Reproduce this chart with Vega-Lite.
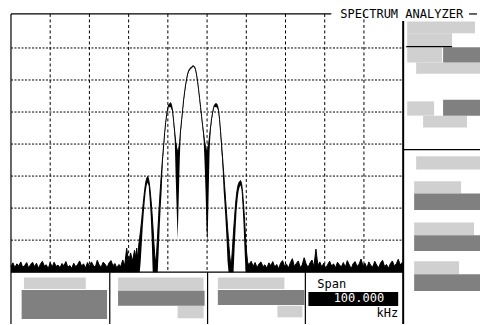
{
  "$schema": "https://vega.github.io/schema/vega-lite/v6.json",
  "width": 481,
  "height": 325,
  "autosize": {"type": "fit", "contains": "padding"},
  "padding": 0,
  "background": "white",
  "config": {"view": {"stroke": null}},
  "datasets": {
    "hatched": [
      {"x": 51.02, "x2": 68.32, "y": -1.77, "y2": -5.39},
      {"x": 51.02, "x2": 62.47, "y": -5.39, "y2": -9.56},
      {"x": 51.02, "x2": 59.92, "y": -9.74, "y2": -14.54},
      {"x": 53.31, "x2": 69.59, "y": -14.54, "y2": -18.05},
      {"x": 51.02, "x2": 57.89, "y": -26.68, "y2": -31.13},
      {"x": 55.09, "x2": 66.28, "y": -31.13, "y2": -34.86},
      {"x": 53.31, "x2": 69.59, "y": -43.79, "y2": -47.94},
      {"x": 52.8, "x2": 64.76, "y": -51.58, "y2": -55.41},
      {"x": 52.8, "x2": 68.07, "y": -64.53, "y2": -68.48},
      {"x": 52.8, "x2": 64.25, "y": -76.58, "y2": -80.62},
      {"x": -46.69, "x2": -30.92, "y": -81.65, "y2": -85.29},
      {"x": -22.7, "x2": -0.89, "y": -81.65, "y2": -85.82},
      {"x": -7.51, "x2": -0.89, "y": -90.49, "y2": -94.41},
      {"x": 2.75, "x2": 19.72, "y": -81.65, "y2": -85.29},
      {"x": 17.94, "x2": 24.3, "y": -90.49, "y2": -94.1}
    ],
    "solid": [
      {"x": 60.18, "x2": 69.59, "y": -9.74, "y2": -14.54},
      {"x": 60.18, "x2": 69.59, "y": -26.15, "y2": -31.13},
      {"x": 52.8, "x2": 69.59, "y": -55.41, "y2": -60.6},
      {"x": 52.8, "x2": 69.59, "y": -68.48, "y2": -73.37},
      {"x": 52.8, "x2": 69.59, "y": -80.62, "y2": -85.91},
      {"x": -47.28, "x2": -25.5, "y": -85.6, "y2": -94.63},
      {"x": -22.7, "x2": -0.64, "y": -85.82, "y2": -90.49},
      {"x": 2.75, "x2": 24.81, "y": -85.6, "y2": -90.27}
    ],
    "blackbox": [
      {"x": 25.83, "x2": 48.73, "y": -86.23, "y2": -90.58}
    ],
    "frame": [
      {"x": -50, "x2": 31.68, "y": 0.62, "y2": 0.62},
      {"x": 66.79, "x2": 68.83, "y": 0.62, "y2": 0.62},
      {"x": -50, "x2": 50, "y": -80, "y2": -80},
      {"x": -24.81, "x2": -24.81, "y": -80, "y2": -96.19},
      {"x": 0.13, "x2": 0.13, "y": -80, "y2": -96.19},
      {"x": 25.06, "x2": 25.06, "y": -80, "y2": -96.19},
      {"x": 50, "x2": 69.59, "y": -41.71, "y2": -41.71},
      {"x": 50.76, "x2": 62.47, "y": -9.56, "y2": -9.56},
      {"x": -50, "x2": -50, "y": 0.62, "y2": -96.19}
    ],
    "frameThick": [
      {"x": 50, "x2": 50, "y": -1.56, "y2": -96.19}
    ],
    "gridV": [
      {"x": -40, "x2": -40, "y": 0.62, "y2": -80},
      {"x": -30, "x2": -30, "y": 0.62, "y2": -80},
      {"x": -20, "x2": -20, "y": 0.62, "y2": -80},
      {"x": -10, "x2": -10, "y": 0.62, "y2": -80},
      {"x": 0, "x2": 0, "y": 0.62, "y2": -80},
      {"x": 10, "x2": 10, "y": 0.62, "y2": -80},
      {"x": 20, "x2": 20, "y": 0.62, "y2": -80},
      {"x": 30, "x2": 30, "y": 0.62, "y2": -80},
      {"x": 40, "x2": 40, "y": 0.62, "y2": -80}
    ],
    "gridH": [
      {"x": -50, "x2": 50, "y": -10, "y2": -10},
      {"x": -50, "x2": 50, "y": -20, "y2": -20},
      {"x": -50, "x2": 50, "y": -30, "y2": -30},
      {"x": -50, "x2": 50, "y": -40, "y2": -40},
      {"x": -50, "x2": 50, "y": -50, "y2": -50},
      {"x": -50, "x2": 50, "y": -60, "y2": -60},
      {"x": -50, "x2": 50, "y": -70, "y2": -70}
    ],
    "labels": [
      {"x": 33.97, "y": -0.72, "text": "SPECTRUM ANALYZER", "role": "title"},
      {"x": 28.12, "y": -85.1, "text": "Span", "role": "left"},
      {"x": 45.17, "y": -89.4, "text": "100.000", "role": "value"},
      {"x": 48.73, "y": -94.1, "text": "kHz", "role": "unit"}
    ],
    "trace": [
      {"x": -50, "y": -78.2, "y2": -80}, {"x": -49.5, "y": -77.1, "y2": -80}, {"x": -49, "y": -78.6, "y2": -80}, {"x": -48.5, "y": -77.4, "y2": -80},
      {"x": -48, "y": -78.0, "y2": -80}, {"x": -47.5, "y": -76.8, "y2": -80}, {"x": -47, "y": -78.5, "y2": -80}, {"x": -46.5, "y": -77.9, "y2": -80},
      {"x": -46, "y": -77.0, "y2": -80}, {"x": -45.5, "y": -78.7, "y2": -80}, {"x": -45, "y": -77.6, "y2": -80}, {"x": -44.5, "y": -76.9, "y2": -80},
      {"x": -44, "y": -78.3, "y2": -80}, {"x": -43.5, "y": -77.2, "y2": -80}, {"x": -43, "y": -78.8, "y2": -80}, {"x": -42.5, "y": -77.5, "y2": -80},
      {"x": -42, "y": -76.6, "y2": -80}, {"x": -41.5, "y": -78.1, "y2": -80}, {"x": -41, "y": -77.7, "y2": -80}, {"x": -40.5, "y": -78.9, "y2": -80},
      {"x": -40, "y": -77.0, "y2": -80}, {"x": -39.5, "y": -78.4, "y2": -80}, {"x": -39, "y": -76.9, "y2": -80}, {"x": -38.5, "y": -78.2, "y2": -80},
      {"x": -38, "y": -77.8, "y2": -80}, {"x": -37.5, "y": -78.6, "y2": -80}, {"x": -37, "y": -77.3, "y2": -80}, {"x": -36.5, "y": -78.0, "y2": -80},
      {"x": -36, "y": -76.7, "y2": -80}, {"x": -35.5, "y": -78.5, "y2": -80}, {"x": -35, "y": -77.9, "y2": -80}, {"x": -34.5, "y": -78.8, "y2": -80},
      {"x": -34, "y": -77.2, "y2": -80}, {"x": -33.5, "y": -78.3, "y2": -80}, {"x": -33, "y": -77.6, "y2": -80}, {"x": -32.5, "y": -76.5, "y2": -80},
      {"x": -32, "y": -78.1, "y2": -80}, {"x": -31.5, "y": -77.4, "y2": -80}, {"x": -31, "y": -78.7, "y2": -80}, {"x": -30.5, "y": -77.0, "y2": -80},
      {"x": -30, "y": -78.2, "y2": -80}, {"x": -29.5, "y": -76.8, "y2": -80}, {"x": -29, "y": -77.9, "y2": -80}, {"x": -28.5, "y": -78.5, "y2": -80},
      {"x": -28, "y": -76.3, "y2": -80}, {"x": -27.5, "y": -77.8, "y2": -80}, {"x": -27, "y": -78.4, "y2": -80}, {"x": -26.5, "y": -76.9, "y2": -80},
      {"x": -26, "y": -77.5, "y2": -80}, {"x": -25.5, "y": -78.6, "y2": -80}, {"x": -25, "y": -77.1, "y2": -80}, {"x": -24.5, "y": -76.4, "y2": -80},
      {"x": -24, "y": -78.0, "y2": -80}, {"x": -23.5, "y": -77.3, "y2": -80}, {"x": -23, "y": -78.7, "y2": -80}, {"x": -22.5, "y": -77.6, "y2": -80},
      {"x": -22, "y": -78.2, "y2": -80}, {"x": -21.5, "y": -76.2, "y2": -80}, {"x": -21, "y": -77.9, "y2": -80}, {"x": -20.5, "y": -72.5, "y2": -80},
      {"x": -20, "y": -76.8, "y2": -80}, {"x": -19.5, "y": -74.0, "y2": -80}, {"x": -19, "y": -76.5, "y2": -80}, {"x": -18.5, "y": -73.2, "y2": -80},
      {"x": -18.19, "y": -75.3, "y2": -80}, {"x": -17.94, "y": -72.5, "y2": -80}, {"x": -17.68, "y": -76.0, "y2": -80}, {"x": -17.43, "y": -71.6, "y2": -80},
      {"x": -17.17, "y": -69.1, "y2": -80}, {"x": -16.92, "y": -66.6, "y2": -76.6}, {"x": -16.66, "y": -63.5, "y2": -71.3}, {"x": -16.41, "y": -60.1, "y2": -66.0},
      {"x": -16.15, "y": -57.0, "y2": -61.6}, {"x": -15.9, "y": -54.2, "y2": -57.9}, {"x": -15.65, "y": -52.0, "y2": -54.8}, {"x": -15.39, "y": -50.7, "y2": -52.9},
      {"x": -15.14, "y": -50.1, "y2": -52.0}, {"x": -14.88, "y": -51.1, "y2": -53.2}, {"x": -14.63, "y": -53.2, "y2": -57.3}, {"x": -14.37, "y": -56.3, "y2": -62.3},
      {"x": -14.12, "y": -60.1, "y2": -69.7}, {"x": -13.86, "y": -64.7, "y2": -80}, {"x": -13.61, "y": -69.7, "y2": -80}, {"x": -13.35, "y": -74.7, "y2": -80},
      {"x": -13.1, "y": -77.2, "y2": -80}, {"x": -12.85, "y": -73.5, "y2": -80}, {"x": -12.59, "y": -67.9, "y2": -80}, {"x": -12.34, "y": -62.3, "y2": -73.5},
      {"x": -12.08, "y": -57.0, "y2": -66.0}, {"x": -11.83, "y": -52.3, "y2": -59.8}, {"x": -11.57, "y": -47.9, "y2": -54.2}, {"x": -11.32, "y": -43.9, "y2": -46.0},
      {"x": -11.06, "y": -40.2, "y2": -41.5}, {"x": -10.81, "y": -36.4, "y2": -37.2}, {"x": -10.56, "y": -33.3, "y2": -33.9}, {"x": -10.3, "y": -30.8, "y2": -31.3},
      {"x": -10.05, "y": -28.9, "y2": -29.4}, {"x": -9.79, "y": -27.7, "y2": -28.2}, {"x": -9.54, "y": -27.4, "y2": -28.6}, {"x": -9.28, "y": -27.1, "y2": -28.4},
      {"x": -9.03, "y": -28.0, "y2": -29.2}, {"x": -8.77, "y": -29.9, "y2": -30.5}, {"x": -8.52, "y": -33.0, "y2": -34.0}, {"x": -8.26, "y": -36.1, "y2": -38.0},
      {"x": -8.01, "y": -39.2, "y2": -50.0}, {"x": -7.76, "y": -41.1, "y2": -60.0}, {"x": -7.5, "y": -42.3, "y2": -69.7}, {"x": -7.25, "y": -41.7, "y2": -58.0},
      {"x": -6.99, "y": -39.2, "y2": -46.0}, {"x": -6.74, "y": -35.5, "y2": -37.0}, {"x": -6.48, "y": -32.4, "y2": -33.2}, {"x": -6.23, "y": -29.3, "y2": -30.0},
      {"x": -5.97, "y": -26.1, "y2": -26.8}, {"x": -5.72, "y": -23.7, "y2": -24.3}, {"x": -5.47, "y": -21.5, "y2": -22.0}, {"x": -5.21, "y": -19.6, "y2": -20.1},
      {"x": -4.96, "y": -18.1, "y2": -18.6}, {"x": -4.7, "y": -17.1, "y2": -17.6}, {"x": -4.45, "y": -16.5, "y2": -17.0}, {"x": -4.19, "y": -16.2, "y2": -16.6},
      {"x": -3.94, "y": -15.9, "y2": -16.3}, {"x": -3.68, "y": -15.6, "y2": -16.0}, {"x": -3.43, "y": -15.6, "y2": -15.9}, {"x": -3.17, "y": -15.9, "y2": -16.3},
      {"x": -2.92, "y": -16.8, "y2": -17.2}, {"x": -2.67, "y": -18.4, "y2": -18.9}, {"x": -2.41, "y": -20.5, "y2": -21.0}, {"x": -2.16, "y": -23.0, "y2": -23.5},
      {"x": -1.9, "y": -25.8, "y2": -26.4}, {"x": -1.65, "y": -28.6, "y2": -29.2}, {"x": -1.39, "y": -31.4, "y2": -32.0}, {"x": -1.14, "y": -34.2, "y2": -35.0},
      {"x": -0.88, "y": -36.7, "y2": -38.5}, {"x": -0.63, "y": -39.2, "y2": -46.0}, {"x": -0.38, "y": -41.1, "y2": -55.0}, {"x": -0.12, "y": -42.0, "y2": -67.2},
      {"x": 0.13, "y": -41.7, "y2": -70.4}, {"x": 0.39, "y": -40.2, "y2": -56.0}, {"x": 0.64, "y": -37.4, "y2": -42.0}, {"x": 0.9, "y": -34.6, "y2": -36.0},
      {"x": 1.15, "y": -32.1, "y2": -32.8}, {"x": 1.41, "y": -30.2, "y2": -30.8}, {"x": 1.66, "y": -28.6, "y2": -29.2}, {"x": 1.91, "y": -27.7, "y2": -28.3},
      {"x": 2.17, "y": -27.4, "y2": -28.5}, {"x": 2.42, "y": -27.4, "y2": -28.5}, {"x": 2.68, "y": -28.0, "y2": -28.9}, {"x": 2.93, "y": -29.6, "y2": -30.2},
      {"x": 3.19, "y": -32.4, "y2": -33.2}, {"x": 3.44, "y": -36.1, "y2": -37.3}, {"x": 3.7, "y": -40.2, "y2": -42.5}, {"x": 3.95, "y": -44.2, "y2": -47.0},
      {"x": 4.21, "y": -48.6, "y2": -54.2}, {"x": 4.46, "y": -52.9, "y2": -58.8}, {"x": 4.72, "y": -57.3, "y2": -64.1}, {"x": 4.97, "y": -61.6, "y2": -69.7},
      {"x": 5.22, "y": -66.0, "y2": -76.6}, {"x": 5.48, "y": -70.4, "y2": -80}, {"x": 5.73, "y": -74.4, "y2": -80}, {"x": 5.99, "y": -77.2, "y2": -80},
      {"x": 6.24, "y": -76.6, "y2": -80}, {"x": 6.5, "y": -72.2, "y2": -80}, {"x": 6.75, "y": -67.2, "y2": -80}, {"x": 7.01, "y": -62.9, "y2": -72.8},
      {"x": 7.26, "y": -58.8, "y2": -66.6}, {"x": 7.51, "y": -55.7, "y2": -61.0}, {"x": 7.77, "y": -53.5, "y2": -57.3}, {"x": 8.02, "y": -52.3, "y2": -54.8},
      {"x": 8.28, "y": -51.7, "y2": -53.5}, {"x": 8.53, "y": -51.4, "y2": -52.9}, {"x": 8.79, "y": -52.3, "y2": -54.2}, {"x": 9.04, "y": -54.8, "y2": -58.8},
      {"x": 9.3, "y": -58.8, "y2": -65.1}, {"x": 9.55, "y": -63.5, "y2": -72.8}, {"x": 9.81, "y": -69.1, "y2": -80}, {"x": 10.06, "y": -73.5, "y2": -80},
      {"x": 10.31, "y": -76.6, "y2": -80}, {"x": 10.57, "y": -77.8, "y2": -80},
      {"x": 10.75, "y": -77.5, "y2": -80}, {"x": 11.25, "y": -76.6, "y2": -80}, {"x": 11.75, "y": -78.2, "y2": -80}, {"x": 12.25, "y": -77.0, "y2": -80},
      {"x": 12.75, "y": -78.6, "y2": -80}, {"x": 13.25, "y": -77.4, "y2": -80}, {"x": 13.75, "y": -76.8, "y2": -80}, {"x": 14.25, "y": -78.3, "y2": -80},
      {"x": 14.75, "y": -77.7, "y2": -80}, {"x": 15.25, "y": -78.8, "y2": -80}, {"x": 15.75, "y": -77.1, "y2": -80}, {"x": 16.25, "y": -78.0, "y2": -80},
      {"x": 16.75, "y": -76.7, "y2": -80}, {"x": 17.25, "y": -78.4, "y2": -80}, {"x": 17.75, "y": -77.6, "y2": -80}, {"x": 18.25, "y": -78.9, "y2": -80},
      {"x": 18.75, "y": -77.2, "y2": -80}, {"x": 19.25, "y": -76.4, "y2": -80}, {"x": 19.75, "y": -78.1, "y2": -80}, {"x": 20.25, "y": -77.5, "y2": -80},
      {"x": 20.75, "y": -78.7, "y2": -80}, {"x": 21.25, "y": -77.0, "y2": -80}, {"x": 21.75, "y": -75.8, "y2": -80}, {"x": 22.25, "y": -78.2, "y2": -80},
      {"x": 22.75, "y": -77.3, "y2": -80}, {"x": 23.25, "y": -76.5, "y2": -80}, {"x": 23.75, "y": -78.5, "y2": -80}, {"x": 24.25, "y": -77.8, "y2": -80},
      {"x": 24.75, "y": -75.5, "y2": -80}, {"x": 25.25, "y": -77.4, "y2": -80}, {"x": 25.75, "y": -78.6, "y2": -80}, {"x": 26.25, "y": -77.1, "y2": -80},
      {"x": 26.75, "y": -76.2, "y2": -80}, {"x": 27.25, "y": -78.3, "y2": -80}, {"x": 27.75, "y": -72.8, "y2": -80}, {"x": 28.25, "y": -77.9, "y2": -80},
      {"x": 28.75, "y": -76.8, "y2": -80}, {"x": 29.25, "y": -78.4, "y2": -80}, {"x": 29.75, "y": -77.2, "y2": -80}, {"x": 30.25, "y": -78.8, "y2": -80},
      {"x": 30.75, "y": -77.6, "y2": -80}, {"x": 31.25, "y": -76.6, "y2": -80}, {"x": 31.75, "y": -78.1, "y2": -80}, {"x": 32.25, "y": -77.4, "y2": -80},
      {"x": 32.75, "y": -78.6, "y2": -80}, {"x": 33.25, "y": -76.9, "y2": -80}, {"x": 33.75, "y": -77.8, "y2": -80}, {"x": 34.25, "y": -78.3, "y2": -80},
      {"x": 34.75, "y": -77.0, "y2": -80}, {"x": 35.25, "y": -78.5, "y2": -80}, {"x": 35.75, "y": -76.4, "y2": -80}, {"x": 36.25, "y": -77.7, "y2": -80},
      {"x": 36.75, "y": -78.9, "y2": -80}, {"x": 37.25, "y": -77.3, "y2": -80}, {"x": 37.75, "y": -76.7, "y2": -80}, {"x": 38.25, "y": -78.2, "y2": -80},
      {"x": 38.75, "y": -77.5, "y2": -80}, {"x": 39.25, "y": -75.9, "y2": -80}, {"x": 39.75, "y": -78.0, "y2": -80}, {"x": 40.25, "y": -77.2, "y2": -80},
      {"x": 40.75, "y": -78.7, "y2": -80}, {"x": 41.25, "y": -76.8, "y2": -80}, {"x": 41.75, "y": -77.9, "y2": -80}, {"x": 42.25, "y": -78.4, "y2": -80},
      {"x": 42.75, "y": -76.6, "y2": -80}, {"x": 43.25, "y": -77.8, "y2": -80}, {"x": 43.75, "y": -78.6, "y2": -80}, {"x": 44.25, "y": -77.1, "y2": -80},
      {"x": 44.75, "y": -76.3, "y2": -80}, {"x": 45.25, "y": -78.2, "y2": -80}, {"x": 45.75, "y": -77.6, "y2": -80}, {"x": 46.25, "y": -78.8, "y2": -80},
      {"x": 46.75, "y": -77.3, "y2": -80}, {"x": 47.25, "y": -76.5, "y2": -80}, {"x": 47.75, "y": -78.1, "y2": -80}, {"x": 48.25, "y": -77.4, "y2": -80},
      {"x": 48.75, "y": -76.0, "y2": -80}, {"x": 49.25, "y": -77.8, "y2": -80}, {"x": 49.75, "y": -77.0, "y2": -80}, {"x": 50, "y": -77.6, "y2": -80}
    ]
  },
  "encoding": {
    "x": {"field": "x", "type": "quantitative", "scale": {"domain": [-52.8, 69.59], "nice": false, "zero": false}, "axis": null},
    "y": {"field": "y", "type": "quantitative", "scale": {"domain": [-96.19, 4.98], "nice": false, "zero": false}, "axis": null}
  },
  "layer": [
    {"data": {"name": "hatched"}, "mark": {"type": "rect", "fill": "#d0d0d0", "stroke": null}, "encoding": {"x2": {"field": "x2"}, "y2": {"field": "y2"}}},
    {"data": {"name": "solid"}, "mark": {"type": "rect", "fill": "#808080", "stroke": null}, "encoding": {"x2": {"field": "x2"}, "y2": {"field": "y2"}}},
    {"data": {"name": "blackbox"}, "mark": {"type": "rect", "fill": "#000000", "stroke": null}, "encoding": {"x2": {"field": "x2"}, "y2": {"field": "y2"}}},
    {"data": {"name": "gridH"}, "mark": {"type": "rule", "color": "#000000", "strokeWidth": 1, "strokeDash": [2, 1.5]}, "encoding": {"x2": {"field": "x2"}, "y2": {"field": "y2"}}},
    {"data": {"name": "gridV"}, "mark": {"type": "rule", "color": "#000000", "strokeWidth": 1, "strokeDash": [3, 2.5]}, "encoding": {"x2": {"field": "x2"}, "y2": {"field": "y2"}}},
    {"data": {"name": "frame"}, "mark": {"type": "rule", "color": "#000000", "strokeWidth": 1.2}, "encoding": {"x2": {"field": "x2"}, "y2": {"field": "y2"}}},
    {"data": {"name": "frameThick"}, "mark": {"type": "rule", "color": "#000000", "strokeWidth": 2}, "encoding": {"x2": {"field": "x2"}, "y2": {"field": "y2"}}},
    {"data": {"name": "trace"}, "mark": {"type": "area", "color": "#000000", "interpolate": "linear"}, "encoding": {"y2": {"field": "y2"}}},
    {"data": {"name": "trace"}, "mark": {"type": "line", "color": "#000000", "strokeWidth": 1, "interpolate": "linear"}},
    {"data": {"name": "labels"}, "transform": [{"filter": "datum.role == 'title' || datum.role == 'left'"}],
     "mark": {"type": "text", "align": "left", "baseline": "alphabetic", "font": "DejaVu Sans Mono", "fontSize": 12, "color": "#000000"},
     "encoding": {"text": {"field": "text"}}},
    {"data": {"name": "labels"}, "transform": [{"filter": "datum.role == 'value'"}],
     "mark": {"type": "text", "align": "right", "baseline": "alphabetic", "font": "DejaVu Sans Mono", "fontSize": 12, "color": "#ffffff"},
     "encoding": {"text": {"field": "text"}}},
    {"data": {"name": "labels"}, "transform": [{"filter": "datum.role == 'unit'"}],
     "mark": {"type": "text", "align": "right", "baseline": "alphabetic", "font": "DejaVu Sans Mono", "fontSize": 12, "color": "#000000"},
     "encoding": {"text": {"field": "text"}}}
  ]
}
